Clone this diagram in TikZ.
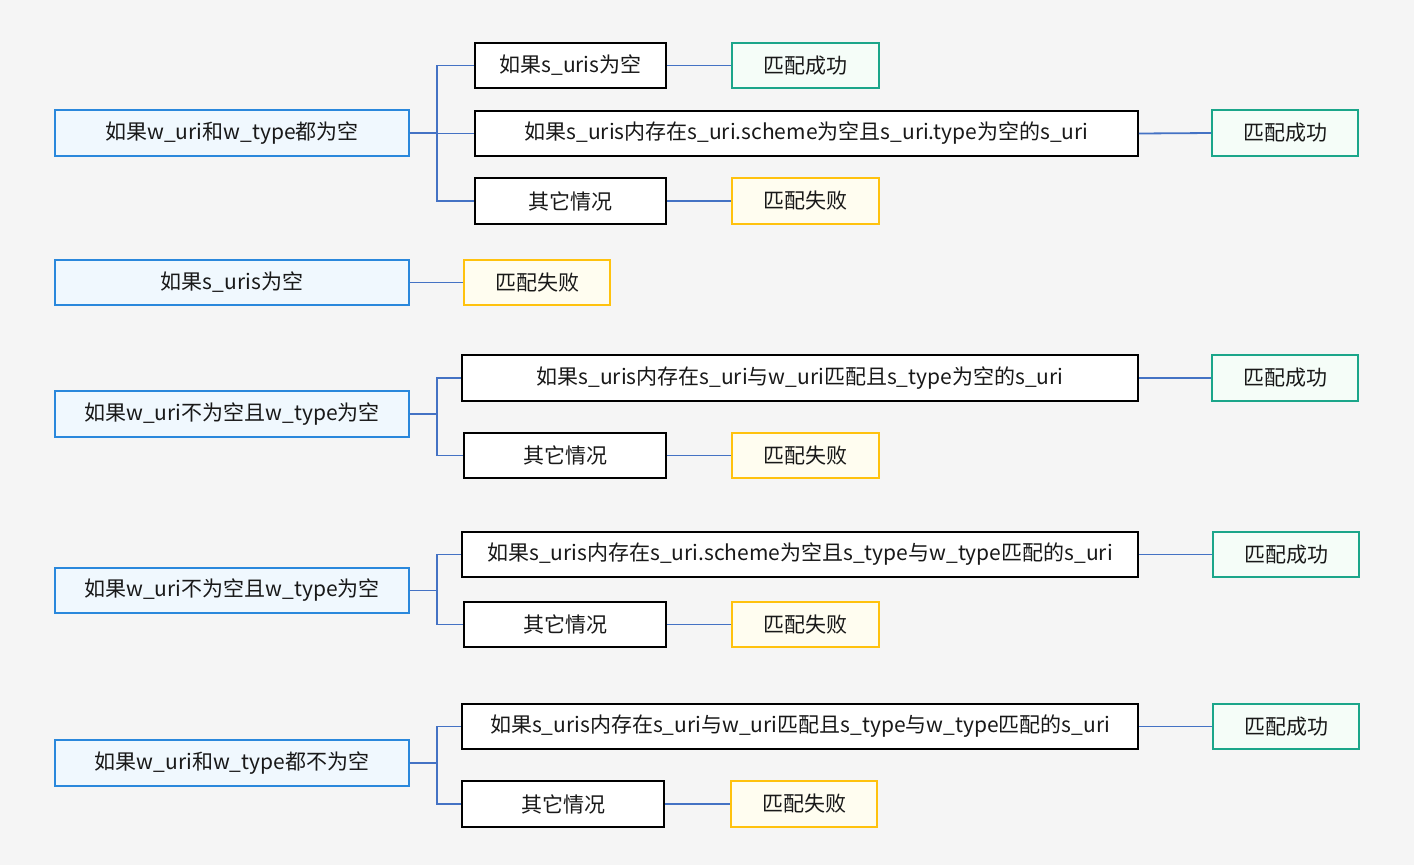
\documentclass[tikz,border=0pt]{standalone}
\usepackage{fontspec}
\setmainfont{Noto Sans CJK SC}
\definecolor{bg}{HTML}{F5F5F5}
\definecolor{rootfill}{HTML}{F0F8FE}
\definecolor{rootdraw}{HTML}{2A88DC}
\definecolor{okfill}{HTML}{F5FDF8}
\definecolor{okdraw}{HTML}{1BA68A}
\definecolor{failfill}{HTML}{FFFDF0}
\definecolor{faildraw}{HTML}{FFC20E}
\definecolor{wire}{HTML}{4472C4}
\tikzset{
  box/.style={rectangle, inner sep=0pt, font=\fontsize{21}{25}\selectfont, text=black!90},
  rootbox/.style={box, fill=rootfill, draw=rootdraw, line width=1.6pt},
  condbox/.style={box, fill=white, draw=black, line width=1.8pt},
  okbox/.style={box, fill=okfill, draw=okdraw, line width=1.6pt},
  failbox/.style={box, fill=failfill, draw=faildraw, line width=1.6pt},
  wireline/.style={draw=wire, line width=1.8pt},
}
\newcommand{\bx}[7]{% style, name, x1, y1, x2, y2, text
  \node[#1, minimum width={(#5-#3)*1pt}, minimum height={(#6-#4)*1pt}] (#2) at ({(#3+#5)/2},{(#4+#6)/2}) {\raisebox{-1.5pt}{#7}};}
\begin{document}
\begin{tikzpicture}[x=1pt,y=-1pt]
\fill[bg] (0,0) rectangle (1414,865);
\useasboundingbox (0,0) rectangle (1414,865);
% branch 1
\bx{rootbox}{r1}{55}{110}{409}{156}{如果w\_uri和w\_type都为空}
\bx{condbox}{c11}{475}{43}{666}{88}{如果s\_uris为空}
\bx{okbox}{o11}{732}{43}{879}{88}{匹配成功}
\bx{condbox}{c12}{475}{111}{1138}{156}{如果s\_uris内存在s\_uri.scheme为空且s\_uri.type为空的s\_uri}
\bx{okbox}{o12}{1212}{110}{1358}{156}{匹配成功}
\bx{condbox}{c13}{475}{178}{666}{224}{其它情况}
\bx{failbox}{f13}{732}{178}{879}{224}{匹配失败}
% branch 2
\bx{rootbox}{r2}{55}{260}{409}{305}{如果s\_uris为空}
\bx{failbox}{f2}{464}{260}{610}{305}{匹配失败}
% branch 3
\bx{rootbox}{r3}{55}{391}{409}{437}{如果w\_uri不为空且w\_type为空}
\bx{condbox}{c31}{462}{355}{1138}{401}{如果s\_uris内存在s\_uri与w\_uri匹配且s\_type为空的s\_uri}
\bx{okbox}{o31}{1212}{355}{1358}{401}{匹配成功}
\bx{condbox}{c32}{464}{433}{666}{478}{其它情况}
\bx{failbox}{f32}{732}{433}{879}{478}{匹配失败}
% branch 4
\bx{rootbox}{r4}{55}{568}{409}{613}{如果w\_uri不为空且w\_type为空}
\bx{condbox}{c41}{462}{532}{1138}{577}{如果s\_uris内存在s\_uri.scheme为空且s\_type与w\_type匹配的s\_uri}
\bx{okbox}{o41}{1213}{532}{1359}{577}{匹配成功}
\bx{condbox}{c42}{464}{602}{666}{647}{其它情况}
\bx{failbox}{f42}{732}{602}{879}{647}{匹配失败}
% branch 5
\bx{rootbox}{r5}{55}{740}{409}{786}{如果w\_uri和w\_type都不为空}
\bx{condbox}{c51}{462}{704}{1138}{749}{如果s\_uris内存在s\_uri与w\_uri匹配且s\_type与w\_type匹配的s\_uri}
\bx{okbox}{o51}{1213}{704}{1359}{749}{匹配成功}
\bx{condbox}{c52}{462}{781}{664}{827}{其它情况}
\bx{failbox}{f52}{731}{781}{877}{827}{匹配失败}
% connectors
\foreach \r/\c in {r1/c11,r1/c12,r1/c13,r3/c31,r3/c32,r4/c41,r4/c42,r5/c51,r5/c52}{
  \draw[wireline] (\r.east) -- ++(27,0) |- (\c.west);
}
\foreach \a/\b in {c11/o11,c12/o12,c13/f13,r2/f2,c31/o31,c32/f32,c41/o41,c42/f42,c51/o51,c52/f52}{
  \draw[wireline] (\a.east) -- (\b.west);
}
\end{tikzpicture}
\end{document}
